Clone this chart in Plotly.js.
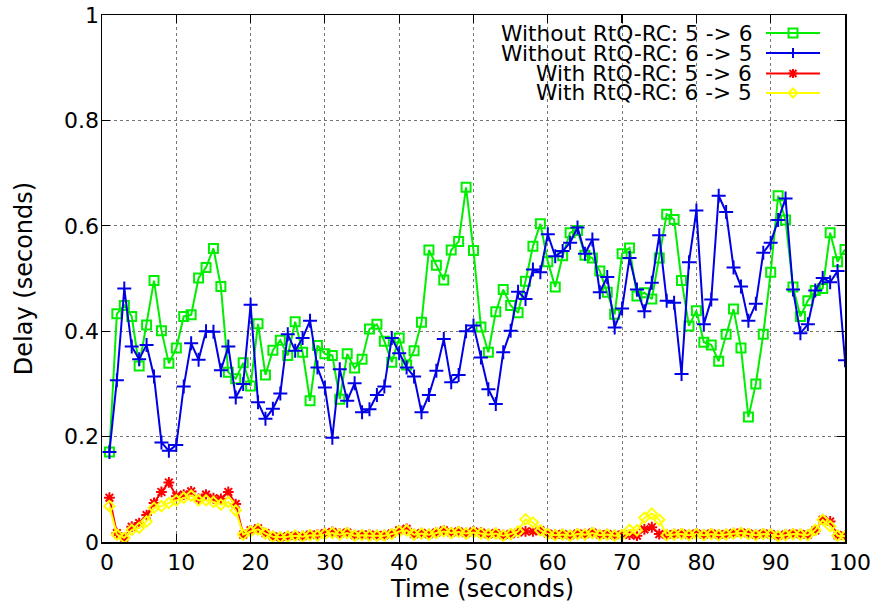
<!DOCTYPE html>
<html>
<head>
<meta charset="utf-8">
<script src="https://cdn.plot.ly/plotly-3.0.1.min.js"></script>
<style>html,body{margin:0;padding:0;background:#fff;}#chart{width:877px;height:603px;}</style>
</head>
<body>
<div id="chart"></div>
<script>
// ---- data ----
const timeSec = Array.from({length: 100}, (_, i) => i + 1);

const withoutRtq56 = [0.171,0.433,0.449,0.428,0.334,0.412,0.496,0.401,0.339,0.368,
0.428,0.431,0.501,0.521,0.557,0.485,0.322,0.310,0.340,0.296,
0.414,0.317,0.364,0.383,0.354,0.418,0.360,0.268,0.373,0.357,
0.354,0.271,0.357,0.330,0.347,0.404,0.413,0.381,0.341,0.387,
0.336,0.363,0.417,0.554,0.525,0.497,0.554,0.570,0.673,0.553,
0.408,0.360,0.437,0.479,0.449,0.435,0.495,0.561,0.604,0.532,
0.484,0.543,0.587,0.591,0.544,0.539,0.514,0.474,0.432,0.547,
0.558,0.467,0.473,0.461,0.539,0.622,0.612,0.496,0.410,0.439,
0.379,0.374,0.343,0.394,0.442,0.368,0.237,0.300,0.394,0.512,
0.657,0.611,0.484,0.428,0.458,0.477,0.481,0.587,0.532,0.555];

const withoutRtq65 = [0.171,0.307,0.481,0.371,0.347,0.374,0.314,0.189,0.173,0.184,
0.295,0.377,0.346,0.400,0.399,0.326,0.371,0.274,0.300,0.450,
0.265,0.234,0.253,0.282,0.394,0.363,0.387,0.420,0.331,0.293,
0.198,0.328,0.268,0.301,0.246,0.252,0.279,0.295,0.387,0.358,
0.331,0.314,0.246,0.279,0.325,0.385,0.303,0.317,0.400,0.411,
0.350,0.290,0.262,0.360,0.401,0.475,0.461,0.517,0.512,0.584,
0.542,0.552,0.568,0.597,0.547,0.574,0.474,0.503,0.407,0.443,
0.539,0.479,0.438,0.492,0.582,0.458,0.454,0.319,0.531,0.629,
0.413,0.460,0.657,0.626,0.521,0.485,0.420,0.452,0.549,0.568,
0.611,0.652,0.479,0.396,0.413,0.477,0.501,0.493,0.514,0.345];

const withRtq56 = [0.084,0.017,0.008,0.029,0.036,0.051,0.074,0.095,0.113,0.087,
0.090,0.096,0.082,0.090,0.083,0.082,0.095,0.072,0.014,0.022,
0.026,0.017,0.011,0.009,0.011,0.012,0.011,0.014,0.014,0.017,
0.019,0.016,0.018,0.013,0.014,0.014,0.013,0.013,0.016,0.022,
0.025,0.015,0.017,0.015,0.018,0.022,0.018,0.020,0.017,0.020,
0.018,0.015,0.017,0.013,0.015,0.018,0.020,0.020,0.022,0.016,
0.014,0.015,0.013,0.016,0.015,0.018,0.014,0.015,0.013,0.014,
0.014,0.012,0.024,0.028,0.015,0.014,0.015,0.016,0.014,0.016,
0.014,0.016,0.014,0.015,0.017,0.018,0.016,0.014,0.016,0.015,
0.012,0.014,0.016,0.015,0.014,0.022,0.042,0.039,0.013,0.012];

const withRtq65 = [0.068,0.014,0.008,0.023,0.027,0.039,0.065,0.068,0.074,0.079,
0.084,0.088,0.079,0.079,0.076,0.071,0.076,0.060,0.014,0.020,
0.024,0.016,0.010,0.009,0.010,0.012,0.010,0.013,0.012,0.015,
0.017,0.014,0.017,0.012,0.013,0.012,0.012,0.012,0.015,0.020,
0.022,0.014,0.016,0.014,0.017,0.020,0.017,0.019,0.016,0.018,
0.016,0.014,0.016,0.012,0.015,0.020,0.043,0.037,0.022,0.015,
0.013,0.014,0.012,0.015,0.014,0.017,0.013,0.014,0.012,0.013,
0.023,0.022,0.046,0.054,0.042,0.013,0.014,0.015,0.013,0.015,
0.013,0.015,0.013,0.014,0.016,0.017,0.015,0.013,0.015,0.014,
0.011,0.013,0.015,0.014,0.013,0.023,0.042,0.030,0.012,0.011];

const seriesNames = ["Without RtQ-RC: 5 -> 6","Without RtQ-RC: 6 -> 5","With RtQ-RC: 5 -> 6","With RtQ-RC: 6 -> 5"];
const xTickVals = [0,10,20,30,40,50,60,70,80,90,100];
const yTickVals = [0,0.2,0.4,0.6,0.8,1];
const xTitle = "Time (seconds)";
const yTitle = "Delay (seconds)";

// ---- styles ----
const colors = ["#00ee00", "#0000e6", "#ff0000", "#ffff00"];
const symbols = ["square-open", "cross-thin-open", "asterisk-open", "diamond-open"];
const msizes = [9, 10, 9, 8];
const ys = [withoutRtq56, withoutRtq65, withRtq56, withRtq65];

const traces = ys.map((y, i) => ({
  x: timeSec, y: y, type: "scatter", mode: "lines+markers", name: seriesNames[i],
  line: {color: colors[i], width: 2},
  marker: {symbol: symbols[i], size: msizes[i], color: colors[i], line: {color: colors[i], width: 2}},
  showlegend: false, hoverinfo: "skip"
}));

const W = 877, H = 603;
const M = {l: 102, r: 32, t: 15, b: 61};
const pw = W - M.l - M.r, ph = H - M.t - M.b;
const px2x = p => (p - M.l) / pw;
const py2y = p => (H - M.b - p) / ph;

const font = "DejaVu Sans, Verdana, sans-serif";
const shapes = [], annotations = [];
const rowY = [33, 53, 73.5, 93];
const textRight = 754, lineL = 766, lineR = 820, mk = 793;
seriesNames.forEach((nm, i) => {
  const yy = py2y(rowY[i]);
  annotations.push({xref: "paper", yref: "paper", x: px2x(textRight), y: yy, xanchor: "right", yanchor: "middle",
    text: nm, showarrow: false, font: {family: font, size: 21.7, color: "#000"}});
  shapes.push({type: "line", xref: "paper", yref: "paper", x0: px2x(lineL), x1: px2x(lineR), y0: yy, y1: yy,
    line: {color: colors[i], width: 2}});
  const base = {xref: "paper", yref: "paper", xsizemode: "pixel", ysizemode: "pixel", xanchor: px2x(mk), yanchor: yy,
    line: {color: colors[i], width: 2}};
  if (i === 0) shapes.push(Object.assign({type: "rect", x0: -4.5, x1: 4.5, y0: -4.5, y1: 4.5}, base));
  if (i === 1) {
    shapes.push(Object.assign({type: "line", x0: -5, x1: 5, y0: 0, y1: 0}, base));
    shapes.push(Object.assign({type: "line", x0: 0, x1: 0, y0: -5, y1: 5}, base));
  }
  if (i === 2) {
    shapes.push(Object.assign({type: "line", x0: -4.5, x1: 4.5, y0: 0, y1: 0}, base));
    shapes.push(Object.assign({type: "line", x0: 0, x1: 0, y0: -4.5, y1: 4.5}, base));
    shapes.push(Object.assign({type: "line", x0: -3.5, x1: 3.5, y0: -3.5, y1: 3.5}, base));
    shapes.push(Object.assign({type: "line", x0: -3.5, x1: 3.5, y0: 3.5, y1: -3.5}, base));
  }
  if (i === 3) shapes.push(Object.assign({type: "path", path: "M -4.5 0 L 0 4.5 L 4.5 0 L 0 -4.5 Z"}, base));
});

// x axis title placed as in the reference (slightly right of plot centre)
annotations.push({xref: "paper", yref: "paper", x: px2x(482), y: py2y(589), xanchor: "center", yanchor: "middle",
  text: xTitle, showarrow: false, font: {family: font, size: 24, color: "#000"}});

const axisCommon = {
  showline: true, linecolor: "#000", linewidth: 1.5, mirror: "ticks",
  ticks: "inside", ticklen: 8, tickwidth: 1.2, tickcolor: "#000",
  showgrid: true, gridcolor: "#777", griddash: "dot", gridwidth: 1,
  zeroline: false, tickfont: {family: font, size: 22, color: "#000"}
};

const layout = {
  width: W, height: H, autosize: false, margin: M,
  paper_bgcolor: "#fff", plot_bgcolor: "#fff", showlegend: false,
  xaxis: Object.assign({}, axisCommon, {range: [0, 100], tickvals: xTickVals, ticktext: xTickVals.map(String),
    ticklabelshift: 5}),
  yaxis: Object.assign({}, axisCommon, {range: [0, 1], tickvals: yTickVals, ticktext: yTickVals.map(String),
    ticklabelstandoff: -3,
    title: {text: yTitle, font: {family: font, size: 24, color: "#000"}, standoff: 24}}),
  shapes: shapes, annotations: annotations
};

Plotly.newPlot("chart", traces, layout, {staticPlot: true, displayModeBar: false});
</script>
</body>
</html>
